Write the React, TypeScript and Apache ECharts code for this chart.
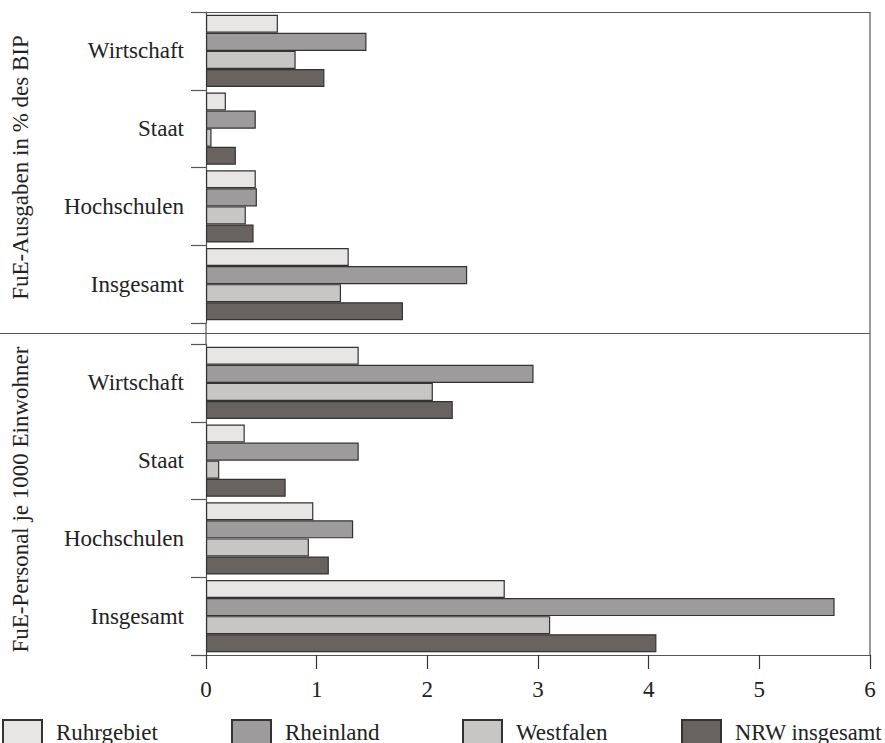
import React, { useEffect, useRef } from "react";
import * as echarts from "echarts";

const categories = ["Wirtschaft", "Staat", "Hochschulen", "Insgesamt"];
const regions = ["Ruhrgebiet", "Rheinland", "Westfalen", "NRW insgesamt"];
const xTicks = [0, 1, 2, 3, 4, 5, 6];

// FuE-Ausgaben in % des BIP
const ausgabenRuhrgebiet = [0.65, 0.18, 0.45, 1.29];
const ausgabenRheinland = [1.45, 0.45, 0.46, 2.36];
const ausgabenWestfalen = [0.81, 0.05, 0.36, 1.22];
const ausgabenNRW = [1.07, 0.27, 0.43, 1.78];

// FuE-Personal je 1000 Einwohner
const personalRuhrgebiet = [1.38, 0.35, 0.97, 2.7];
const personalRheinland = [2.96, 1.38, 1.33, 5.68];
const personalWestfalen = [2.05, 0.12, 0.93, 3.11];
const personalNRW = [2.23, 0.72, 1.11, 4.07];

const panelTitles = ["FuE-Ausgaben in % des BIP", "FuE-Personal je 1000 Einwohner"];

const colors = ["#e7e6e4", "#9d9b9b", "#c7c6c4", "#686361"];
const FONT = "'Liberation Serif', 'DejaVu Serif', 'Times New Roman', serif";
const FS = 23;
const TEXT = "#222";
const LINE = "#555";

export default function App() {
  const ref = useRef<HTMLDivElement>(null);

  useEffect(() => {
    if (!ref.current) return;
    const chart = echarts.init(ref.current, null, { renderer: "svg" });

    const W = 885;
    const left = 206;
    const right = 15;
    const plotRight = W - right;
    const top1 = 12;
    const h = 311;
    const top2 = 344;

    const panels = [
      [ausgabenRuhrgebiet, ausgabenRheinland, ausgabenWestfalen, ausgabenNRW],
      [personalRuhrgebiet, personalRheinland, personalWestfalen, personalNRW],
    ];

    const series: any[] = [];
    panels.forEach((vals, p) => {
      vals.forEach((data, i) => {
        series.push({
          type: "bar",
          name: regions[i],
          xAxisIndex: p,
          yAxisIndex: p,
          data,
          barGap: "0%",
          barCategoryGap: "7%",
          itemStyle: { color: colors[i], borderColor: "#333", borderWidth: 1.2 },
          emphasis: { disabled: true },
        });
      });
    });

    const legendLefts = [2, 231, 462, 681];
    const legends = regions.map((r, i) => ({
      data: [r],
      left: legendLefts[i],
      top: 719,
      padding: 0,
      orient: "horizontal",
      itemWidth: 39,
      itemHeight: 24,
      icon: "rect",
      selectedMode: false,
      textStyle: {
        fontFamily: FONT,
        fontSize: i === 3 ? 22.5 : FS,
        lineHeight: 22,
        color: TEXT,
        padding: [0, 0, 0, 9],
      },
    }));

    const yAxisCommon = (gridIndex: number) => ({
      type: "category",
      gridIndex,
      data: categories,
      inverse: true,
      name: panelTitles[gridIndex],
      nameLocation: "middle",
      nameRotate: 90,
      nameGap: 174,
      nameTextStyle: { fontFamily: FONT, fontSize: FS, color: TEXT },
      axisLine: { show: true, lineStyle: { color: LINE, width: 1.2 } },
      axisTick: { show: true, interval: 0, length: 15, lineStyle: { color: LINE, width: 1.2 } },
      axisLabel: { margin: 22, fontFamily: FONT, fontSize: FS, color: TEXT },
      splitLine: { show: false },
    });

    chart.setOption({
      animation: false,
      backgroundColor: "#fff",
      grid: [
        { left, right, top: top1, height: h },
        { left, right, top: top2, height: h },
      ],
      xAxis: [
        {
          type: "value",
          gridIndex: 0,
          min: 0,
          max: 6,
          interval: 1,
          position: "top",
          axisLine: { show: true, lineStyle: { color: LINE, width: 1.2 } },
          axisTick: { show: false },
          axisLabel: { show: false },
          splitLine: { show: false },
        },
        {
          type: "value",
          gridIndex: 1,
          min: 0,
          max: 6,
          interval: 1,
          data: xTicks,
          axisLine: { show: true, lineStyle: { color: LINE, width: 1.2 } },
          axisTick: { show: true, length: 14, lineStyle: { color: "#333", width: 1.2 } },
          axisLabel: { margin: 23, fontFamily: FONT, fontSize: FS, color: TEXT },
          splitLine: { show: false },
        },
      ],
      yAxis: [yAxisCommon(0), yAxisCommon(1)],
      legend: legends,
      series,
      graphic: [
        {
          type: "line",
          shape: { x1: 0, y1: (top1 + h + top2) / 2, x2: plotRight, y2: (top1 + h + top2) / 2 },
          style: { stroke: LINE, lineWidth: 1.2 },
        },
        {
          type: "line",
          shape: { x1: plotRight, y1: top1, x2: plotRight, y2: top2 + h },
          style: { stroke: LINE, lineWidth: 1.2 },
        },
        {
          type: "line",
          shape: { x1: left, y1: top1 + h, x2: left, y2: top2 },
          style: { stroke: LINE, lineWidth: 1.2 },
        },
      ],
    });

    return () => chart.dispose();
  }, []);

  return (
    <div
      ref={ref}
      style={{ position: "absolute", left: 0, top: 0, width: 885, height: 743, background: "#fff" }}
    />
  );
}
